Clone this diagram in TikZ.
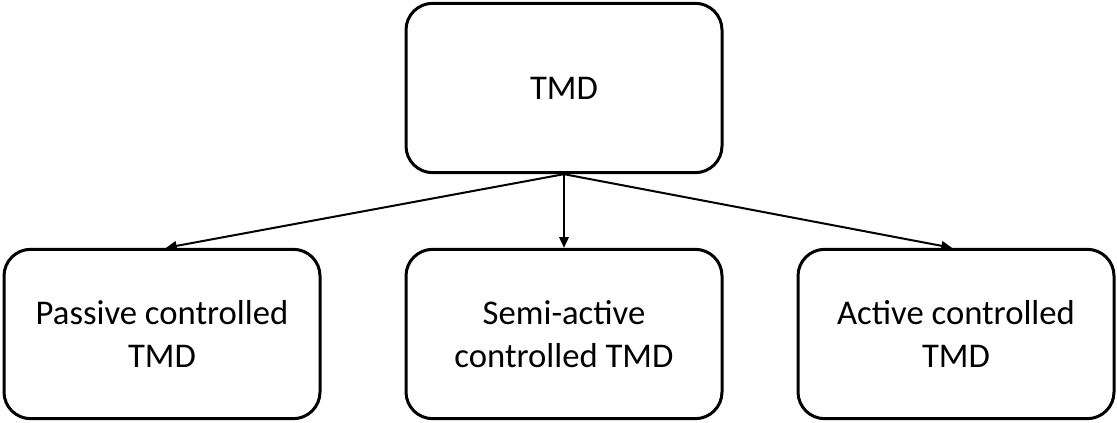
\documentclass[tikz,border=0pt]{standalone}
\usepackage{fontspec}
\setmainfont{Carlito}
\usetikzlibrary{arrows.meta,calc}
\begin{document}
\begin{tikzpicture}[x=0.75pt,y=-0.75pt,
  box/.style={draw, line width=2.25pt, rounded corners=20pt, align=center,
    minimum width=237pt, minimum height=127pt, inner sep=0pt,
    font=\fontsize{26pt}{32pt}\selectfont},
  link/.style={line width=1.5pt, -{Triangle[length=8pt,width=7pt]}}]
  \useasboundingbox (0,0) rectangle (1117,423);
  \node[box] (tmd) at (564,88) {TMD};
  \node[box] (pas) at (162,334) {Passive controlled\\TMD};
  \node[box] (semi) at (564,334) {Semi-active\\controlled TMD};
  \node[box] (act) at (956,334) {Active controlled\\TMD};
  \draw[link] (tmd.south) -- ($(pas.north)+(4,0)$);
  \draw[link] (tmd.south) -- (semi.north);
  \draw[link] (tmd.south) -- ($(act.north)+(-4,0)$);
\end{tikzpicture}
\end{document}
